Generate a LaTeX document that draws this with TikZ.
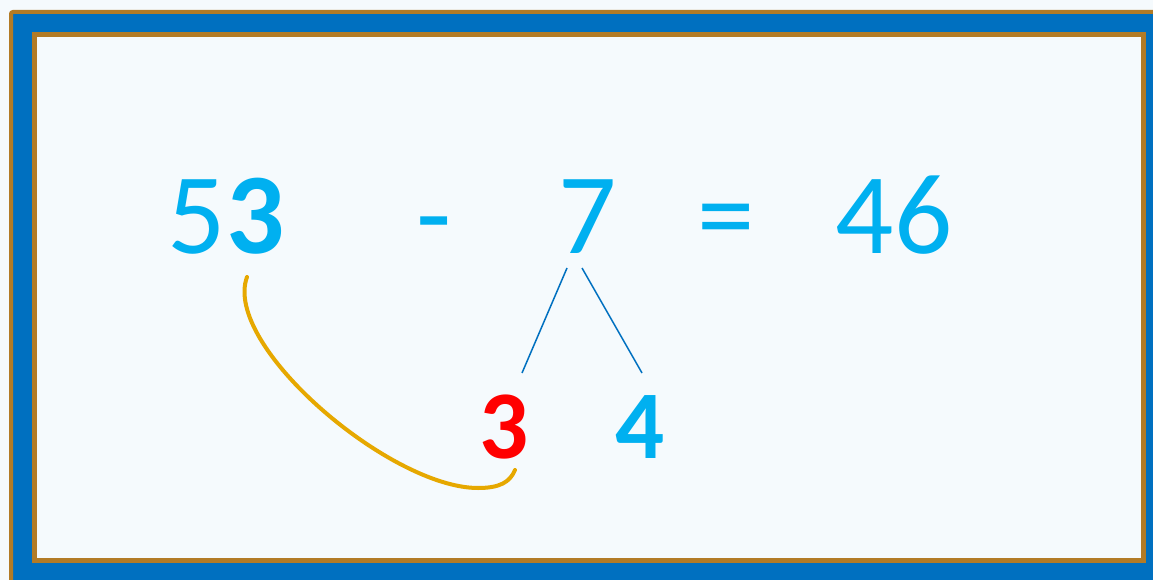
\documentclass[tikz,border=0pt]{standalone}
\usepackage{fontspec}
\setmainfont{Carlito}[BoldFont={Carlito Bold}]
\usepackage{xcolor}
\usetikzlibrary{positioning,calc}
\definecolor{numblue}{HTML}{00B0F0}
\definecolor{frameblue}{HTML}{0070C0}
\definecolor{framebrown}{HTML}{B27B26}
\definecolor{paper}{HTML}{F5FAFD}
\definecolor{arcgold}{HTML}{E6A800}
\definecolor{partred}{HTML}{FF0000}

\begin{document}
\begin{tikzpicture}[x=1pt, y=-1pt,
  bignum/.style={font=\fontsize{115}{115}\selectfont, text=numblue, inner sep=0pt, anchor=base},
  partnum/.style={font=\fontsize{97}{97}\selectfont\bfseries, inner sep=0pt, anchor=base},
  branch/.style={draw=frameblue, line width=1.5pt},
  bond/.style={draw=arcgold, line width=4pt, line cap=round}]
\useasboundingbox (0,0) rectangle (1153,580);
\clip (0,0) rectangle (1153,580);
\fill[paper] (0,0) rectangle (1153,580);

% Frame (runs past the right and bottom edges)
\draw[framebrown, line width=4pt, fill=frameblue, rounded corners=2pt] (11,12) rectangle (1180,610);
\draw[framebrown, line width=5pt, fill=paper] (34.5,35) rectangle (1143.5,560);

% The sum
\node[bignum] (n53) at (226,253) {5\textbf{3}};
\node[bignum] (minus) at (434,253) {-};
\node[bignum] (n7) at (588,253) {7};
\node[bignum] (eq) at (726,253) {=};
\node[bignum] (n46) at (894,253) {46};

% Splitting 7 into 3 and 4
\node[partnum, text=partred] (p3) at (504,458) {3};
\node[partnum, text=numblue] (p4) at (640,458) {4};
\coordinate (b7l) at (567,268);
\coordinate (b7r) at (582,268);
\coordinate (t3) at (522,373);
\coordinate (t4) at (642,373);
\draw[branch] (b7l) -- (t3);
\draw[branch] (b7r) -- (t4);

% 3 joins the 3 of 53
\coordinate (from53) at (247,277);
\coordinate (low) at (478,488);
\coordinate (to3) at (515,470);
\draw[bond] (from53) .. controls (222,345) and (390,488) .. (low)
  .. controls (500,488) and (510,482) .. (to3);
\end{tikzpicture}
\end{document}
